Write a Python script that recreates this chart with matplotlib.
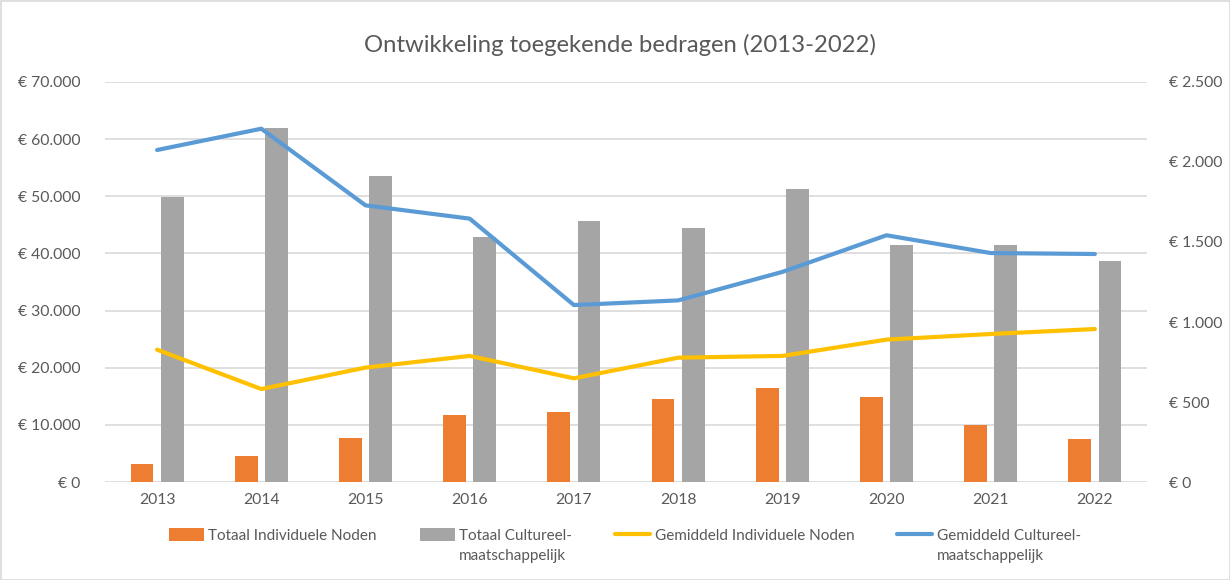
import matplotlib
matplotlib.use("Agg")
import matplotlib.pyplot as plt
from matplotlib.ticker import FuncFormatter, MultipleLocator
import numpy as np

years = ["2013", "2014", "2015", "2016", "2017", "2018", "2019", "2020", "2021", "2022"]
totaal_individueel = [3100, 4500, 7700, 11800, 12300, 14600, 16500, 14900, 10000, 7500]
totaal_cultureel = [49900, 62000, 53600, 42800, 45600, 44500, 51300, 41500, 41500, 38600]
gem_individueel = [827, 581, 715, 788, 648, 777, 788, 890, 925, 956]
gem_cultureel = [2075, 2208, 1729, 1646, 1106, 1135, 1313, 1542, 1431, 1425]

labels = ["Totaal Individuele Noden", "Totaal Cultureel-\nmaatschappelijk",
          "Gemiddeld Individuele Noden", "Gemiddeld Cultureel-\nmaatschappelijk"]

plt.rcParams['font.family'] = ['Lato', 'DejaVu Sans']
txt = '#595959'
grid = '#D9D9D9'

fig = plt.figure(figsize=(12.3, 5.8), dpi=100)
fig.patch.set_facecolor('white')
ax = fig.add_axes([105/1230, 1-482/580, 1042/1230, 400/580])
ax2 = ax.twinx()

x = np.arange(len(years))
w = 0.22
off = 0.145
b1 = ax.bar(x - off, totaal_individueel, w, color='#ED7D31', zorder=2)
b2 = ax.bar(x + off, totaal_cultureel, w, color='#A5A5A5', zorder=2)
l1, = ax2.plot(x, gem_individueel, color='#FFC000', lw=3, solid_capstyle='round')
l2, = ax2.plot(x, gem_cultureel, color='#5B9BD5', lw=3, solid_capstyle='round')

ax.set_xlim(-0.5, len(years) - 0.5)
ax.set_ylim(0, 70000)
ax2.set_ylim(0, 2500)
ax.yaxis.set_major_locator(MultipleLocator(10000))
ax2.yaxis.set_major_locator(MultipleLocator(500))

fmt = FuncFormatter(lambda v, p: "€ " + f"{v:,.0f}".replace(",", "."))
ax.yaxis.set_major_formatter(fmt)
ax2.yaxis.set_major_formatter(fmt)

ax.set_xticks(x)
ax.set_xticklabels(years)
for a in (ax, ax2):
    for s in a.spines.values():
        s.set_visible(False)
    a.tick_params(length=0, colors=txt, labelsize=11.3)
ax.tick_params(axis='y', pad=18)
ax2.tick_params(axis='y', pad=16)
ax.tick_params(axis='x', pad=8)
ax.grid(axis='y', color=grid, lw=1.2, zorder=0)
ax.set_axisbelow(True)

fig.text(0.504, 1-45/580, "Ontwikkeling toegekende bedragen (2013-2022)", ha='center', va='center',
         fontsize=17.2, color=txt)

first_lines = [l.split("\n")[0] for l in labels]
leg = fig.legend([b1, b2, l1, l2], first_lines, loc='upper center',
                 bbox_to_anchor=(0.508, 1-528/580),
                 ncol=4, frameon=False, fontsize=11, labelcolor=txt, handlelength=2.3,
                 handleheight=0.9, handletextpad=0.3, columnspacing=2.8,
                 borderpad=0, borderaxespad=0)

fig.canvas.draw()
for lab, t in zip(labels, leg.get_texts()):
    parts = lab.split("\n")
    if len(parts) > 1:
        bb = t.get_window_extent()
        fig.text(bb.x0 / fig.bbox.width, (bb.y0 - 20) / fig.bbox.height, parts[1],
                 ha='left', va='bottom', fontsize=11, color=txt)

# light border around chart
fig.add_artist(plt.Rectangle((0.5/1230, 0.5/580), 1-1/1230, 1-1/580, transform=fig.transFigure,
                             fill=False, edgecolor='#D9D9D9', lw=1.2))

fig.savefig("out.png", dpi=100, facecolor='white')
